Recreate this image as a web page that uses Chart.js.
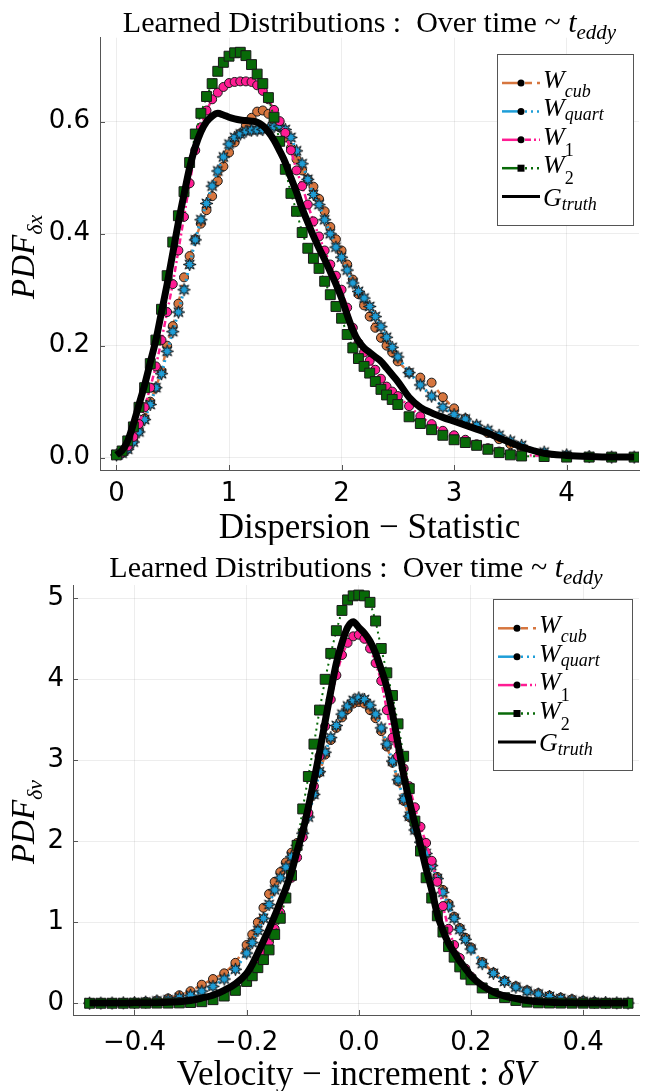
<!DOCTYPE html>
<html>
<head>
<meta charset="utf-8">
<script src="https://cdn.jsdelivr.net/npm/chart.js@4.4.0/dist/chart.umd.min.js"></script>
<style>
body{margin:0;background:#fff;}
#wrap{position:relative;width:647px;height:1091px;background:#fff;}
#wrap canvas{position:absolute;left:0;}
</style>
</head>
<body>
<div id="wrap">
  <canvas id="dispChart" width="647" height="545" style="top:0px"></canvas>
  <canvas id="velChart" width="647" height="546" style="top:545px"></canvas>
</div>
<script>
//______________________________DATA: dispersion statistic_______________________________
var dispX=[0,0.05,0.1,0.15,0.2,0.25,0.3,0.35,0.4,0.45,
  0.5,0.55,0.6,0.65,0.7,0.75,0.8,0.85,0.9,0.95,
  1,1.05,1.1,1.15,1.2,1.25,1.3,1.35,1.4,1.45,
  1.5,1.55,1.6,1.65,1.7,1.75,1.8,1.85,1.9,1.95,
  2,2.05,2.1,2.15,2.2,2.25,2.3,2.35,2.4,2.45,
  2.5,2.6,2.7,2.8,2.9,3,3.1,3.2,3.3,3.4,
  3.5,3.6,3.8,4,4.2,4.4,4.6];
var dispCub=[0.005,0.008,0.016,0.03,0.048,0.07,0.1,0.125,0.155,0.2,
  0.235,0.275,0.322,0.36,0.39,0.418,0.442,0.467,0.494,0.52,
  0.545,0.563,0.579,0.593,0.607,0.618,0.62,0.614,0.603,0.59,
  0.572,0.553,0.533,0.513,0.497,0.484,0.462,0.44,0.412,0.39,
  0.37,0.345,0.318,0.292,0.272,0.252,0.232,0.214,0.2,0.188,
  0.172,0.152,0.143,0.134,0.108,0.088,0.07,0.056,0.044,0.033,
  0.024,0.017,0.008,0.004,0.002,0.001,0.001];
var dispQuart=[0.005,0.008,0.015,0.028,0.046,0.068,0.095,0.125,0.15,0.19,
  0.225,0.26,0.3,0.345,0.389,0.425,0.454,0.485,0.512,0.537,
  0.56,0.572,0.578,0.583,0.585,0.585,0.586,0.588,0.591,0.592,
  0.586,0.572,0.548,0.525,0.497,0.47,0.452,0.425,0.4,0.376,
  0.358,0.335,0.312,0.297,0.285,0.27,0.252,0.234,0.215,0.197,
  0.18,0.152,0.13,0.11,0.09,0.077,0.069,0.058,0.049,0.04,
  0.03,0.022,0.01,0.005,0.002,0.001,0.001];
var dispW1=[0.005,0.009,0.02,0.037,0.06,0.09,0.125,0.163,0.21,0.26,
  0.31,0.37,0.43,0.49,0.549,0.59,0.62,0.64,0.652,0.662,
  0.669,0.671,0.672,0.672,0.671,0.665,0.655,0.64,0.621,0.601,
  0.58,0.549,0.513,0.485,0.452,0.422,0.395,0.37,0.345,0.325,
  0.3,0.268,0.232,0.205,0.188,0.173,0.157,0.141,0.127,0.118,
  0.11,0.092,0.074,0.06,0.048,0.04,0.032,0.024,0.017,0.011,
  0.007,0.005,0.003,0.002,0.001,0.001,0.001];
var dispW2=[0.005,0.012,0.03,0.055,0.09,0.125,0.168,0.21,0.265,0.325,
  0.385,0.432,0.475,0.527,0.578,0.615,0.645,0.668,0.69,0.706,
  0.717,0.723,0.724,0.718,0.702,0.685,0.668,0.643,0.608,0.565,
  0.515,0.472,0.44,0.402,0.374,0.356,0.338,0.315,0.291,0.27,
  0.249,0.22,0.196,0.177,0.163,0.151,0.136,0.122,0.112,0.104,
  0.095,0.073,0.061,0.05,0.04,0.032,0.027,0.022,0.015,0.009,
  0.005,0.003,0.002,0.001,0.001,0.001,0.001];
var dispTruth=[0.005,0.013,0.03,0.06,0.095,0.13,0.17,0.21,0.26,0.31,
  0.365,0.42,0.47,0.518,0.555,0.582,0.6,0.61,0.615,0.612,
  0.608,0.605,0.603,0.602,0.601,0.599,0.593,0.582,0.567,0.548,
  0.527,0.5,0.474,0.445,0.42,0.396,0.374,0.354,0.332,0.31,
  0.285,0.255,0.228,0.208,0.196,0.188,0.18,0.172,0.16,0.148,
  0.136,0.108,0.09,0.08,0.072,0.065,0.058,0.051,0.044,0.035,
  0.027,0.019,0.008,0.004,0.002,0.001,0.001];
var dispXTicks=[0,1,2,3,4];
var dispXTickLabels=['0','1','2','3','4'];
var dispYTicks=[0,0.2,0.4,0.6];
var dispYTickLabels=['0.0','0.2','0.4','0.6'];

//______________________________DATA: velocity increment_______________________________
var velX=[-0.48,-0.46,-0.44,-0.42,-0.4,-0.38,-0.36,-0.34,-0.32,-0.3,-0.28,-0.26,-0.24,-0.22,
  -0.2,-0.19,-0.18,-0.17,-0.16,-0.15,-0.14,-0.13,-0.12,-0.11,
  -0.1,-0.09,-0.08,-0.07,-0.06,-0.05,-0.04,-0.03,-0.02,-0.01,
  0,0.01,0.02,0.03,0.04,0.05,0.06,0.07,0.08,0.09,
  0.1,0.11,0.12,0.13,0.14,0.15,0.16,0.17,0.18,0.19,0.2,
  0.22,0.24,0.26,0.28,0.3,0.32,0.34,0.36,0.38,0.4,0.42,0.44,0.46,0.48];
var velCub=[0.003,0.003,0.004,0.006,0.01,0.02,0.035,0.06,0.1,0.15,0.23,0.3,0.37,0.5,
  0.72,0.85,1.0,1.18,1.35,1.5,1.62,1.74,1.86,1.98,
  2.12,2.32,2.58,2.85,3.07,3.25,3.4,3.53,3.63,3.7,
  3.72,3.7,3.62,3.52,3.36,3.17,2.97,2.74,2.5,2.3,
  2.14,1.99,1.85,1.71,1.56,1.4,1.23,1.07,0.93,0.81,0.69,
  0.51,0.38,0.28,0.21,0.16,0.125,0.095,0.07,0.05,0.03,0.018,0.01,0.006,0.004];
var velQuart=[0.002,0.003,0.004,0.006,0.008,0.015,0.03,0.045,0.07,0.1,0.15,0.21,0.3,0.42,
  0.62,0.75,0.9,1.05,1.22,1.4,1.55,1.68,1.81,1.95,
  2.1,2.3,2.58,2.86,3.1,3.28,3.43,3.57,3.67,3.74,
  3.77,3.75,3.68,3.57,3.4,3.2,2.99,2.76,2.52,2.31,
  2.14,1.99,1.85,1.7,1.54,1.37,1.2,1.05,0.91,0.79,0.67,
  0.49,0.37,0.27,0.2,0.15,0.115,0.085,0.06,0.04,0.025,0.015,0.01,0.006,0.004];
var velW1=[0.002,0.002,0.002,0.003,0.003,0.004,0.006,0.01,0.015,0.025,0.045,0.08,0.13,0.21,
  0.32,0.4,0.5,0.62,0.76,0.92,1.12,1.32,1.55,1.8,
  2.05,2.35,2.68,3.05,3.42,3.75,4.05,4.3,4.45,4.53,
  4.55,4.5,4.38,4.2,3.98,3.62,3.28,3.05,2.9,2.68,
  2.42,2.18,1.98,1.76,1.5,1.2,0.92,0.72,0.56,0.43,0.33,
  0.2,0.12,0.07,0.04,0.022,0.012,0.008,0.005,0.004,0.003,0.002,0.002,0.002,0.002];
var velW2=[0.001,0.001,0.001,0.001,0.002,0.002,0.003,0.003,0.005,0.01,0.02,0.045,0.09,0.16,
  0.27,0.34,0.44,0.54,0.66,0.85,1.05,1.3,1.58,1.95,
  2.4,2.8,3.2,3.62,4.0,4.32,4.6,4.85,4.98,5.03,
  5.04,5.03,4.95,4.72,4.38,4.08,3.8,3.45,3.05,2.65,
  2.25,1.88,1.55,1.3,1.08,0.88,0.7,0.57,0.45,0.36,0.29,
  0.19,0.12,0.07,0.035,0.015,0.006,0.004,0.003,0.002,0.002,0.001,0.001,0.001,0.001];
var velTruth=[0.004,0.004,0.005,0.005,0.006,0.007,0.008,0.012,0.02,0.035,0.065,0.1,0.16,0.24,
  0.37,0.48,0.62,0.77,0.92,1.08,1.25,1.42,1.62,1.88,
  2.12,2.42,2.75,3.1,3.48,3.85,4.2,4.45,4.64,4.71,
  4.64,4.57,4.47,4.32,4.12,3.9,3.58,3.2,2.82,2.5,
  2.22,1.95,1.66,1.4,1.1,0.9,0.74,0.63,0.52,0.43,0.34,
  0.22,0.14,0.09,0.06,0.035,0.02,0.012,0.008,0.006,0.005,0.004,0.004,0.004,0.004];
var velXTicks=[-0.4,-0.2,0,0.2,0.4];
var velXTickLabels=['\u22120.4','\u22120.2','0.0','0.2','0.4'];
var velYTicks=[0,1,2,3,4,5];
var velYTickLabels=['0','1','2','3','4','5'];

// series names: main symbol + subscript
var seriesMain=['W','W','W','W','G'];
var seriesSub=['cub','quart','1','2','truth'];

//______________________________STYLES_______________________________
var SERIF='"Liberation Serif","DejaVu Serif",serif';
var SANS='"DejaVu Sans",sans-serif';
var ORANGE='#D6763F', BLUE='#1E9ED8', PINK='#FF1C93', GREEN='#086A08';
var AXIS='#555', GRID='rgba(0,0,0,0.07)';

var seriesStyle=[
  {color:ORANGE, dash:[7,5], shape:'circle', width:2.5},
  {color:BLUE, dash:[2,4], shape:'star', width:3},
  {color:PINK, dash:[6,3,2,3], shape:'circle', width:2.5},
  {color:GREEN, dash:[2,4], shape:'rect', width:2},
  {color:'#000', dash:[], shape:null, width:7}
];
// legend text offsets (baseline below row line, subscript drop)
var legendBaseDy=[5,5,5,5,9];
var legendSubDy=[9,4,11,11,4];

// 8 point star marker, blue with dark outline
function starMarker(){
  var c=document.createElement('canvas');
  c.width=15; c.height=15;
  var g=c.getContext('2d');
  g.beginPath();
  for(var i=0;i<16;i++){
    var r=(i%2==0)?6.5:3;
    var a=i*Math.PI/8-Math.PI/2;
    g.lineTo(7.5+r*Math.cos(a),7.5+r*Math.sin(a));
  }
  g.closePath();
  g.fillStyle=BLUE; g.fill();
  g.strokeStyle='#111'; g.lineWidth=1; g.stroke();
  return c;
}
var STAR=starMarker();

function pts(xs,ys){
  return xs.map(function(x,i){ return {x:x,y:ys[i]}; });
}

function makeDatasets(xs,ysList){
  return ysList.map(function(ys,i){
    var st=seriesStyle[i];
    var ds={
      label:seriesMain[i]+'_'+seriesSub[i],
      data:pts(xs,ys),
      borderColor:st.color,
      borderWidth:st.width,
      borderDash:st.dash,
      fill:false,
      order:5-i
    };
    if(st.shape==null){
      ds.pointRadius=0;
      ds.cubicInterpolationMode='monotone';
    }else{
      ds.pointStyle=(st.shape=='star')?STAR:st.shape;
      ds.pointRadius=(st.shape=='rect')?7:4.5;
      ds.pointBackgroundColor=st.color;
      ds.pointBorderColor='#1a1a1a';
      ds.pointBorderWidth=1;
    }
    return ds;
  });
}

// draw a run of text pieces (main text + subscripts) on one baseline
function drawParts(ctx,parts,x,y,align){
  var w=0;
  parts.forEach(function(p){ ctx.font=p.font; w+=ctx.measureText(p.text).width; });
  var cx=(align=='center')?x-w/2:x;
  parts.forEach(function(p){
    ctx.font=p.font;
    ctx.fillText(p.text,cx,y+(p.dy||0));
    cx+=ctx.measureText(p.text).width;
  });
}

function axis(min,max,ticks,labels,pad,fit){
  return {
    type:'linear', min:min, max:max,
    afterBuildTicks:function(s){ s.ticks=ticks.map(function(v){ return {value:v}; }); },
    afterFit:function(s){ fit(s); s.paddingTop=0; s.paddingBottom=0; s.paddingLeft=0; s.paddingRight=0; },
    ticks:{autoSkip:false, maxRotation:0, minRotation:0, padding:pad, color:'#000',
      font:{family:SANS, size:26},
      callback:function(v,i){ return labels[i]; }},
    grid:{color:GRID, drawTicks:false, lineWidth:1},
    border:{color:AXIS, width:1}
  };
}

//______________________________TITLES, LABELS, LEGEND_______________________________
function decor(cfg){
  return {
    id:'decor',
    beforeDatasetsDraw:function(chart){
      // short ticks pointing into the plot
      var ctx=chart.ctx, a=chart.chartArea, sx=chart.scales.x, sy=chart.scales.y;
      ctx.save();
      ctx.strokeStyle=AXIS; ctx.lineWidth=1;
      ctx.beginPath();
      sx.ticks.forEach(function(t){
        var px=Math.round(sx.getPixelForValue(t.value))+0.5;
        ctx.moveTo(px,a.bottom); ctx.lineTo(px,a.bottom-5);
      });
      sy.ticks.forEach(function(t){
        var py=Math.round(sy.getPixelForValue(t.value))+0.5;
        ctx.moveTo(a.left,py); ctx.lineTo(a.left+5,py);
      });
      ctx.stroke();
      ctx.restore();
    },
    afterDraw:function(chart){
      var ctx=chart.ctx, a=chart.chartArea;
      var mid=(a.left+a.right)/2;
      ctx.save();
      ctx.fillStyle='#000';
      ctx.textAlign='left';
      ctx.textBaseline='alphabetic';
      drawParts(ctx,cfg.title,mid,cfg.titleY,'center');
      drawParts(ctx,cfg.xLabel,mid,cfg.xLabelY,'center');
      ctx.save();
      ctx.translate(cfg.yLabelX,(a.top+a.bottom)/2+cfg.yLabelShift);
      ctx.rotate(-Math.PI/2);
      drawParts(ctx,cfg.yLabel,0,0,'center');
      ctx.restore();

      // legend
      var L=cfg.legend;
      ctx.fillStyle='#fff';
      ctx.fillRect(L.x,L.y,L.w,L.h);
      ctx.strokeStyle=AXIS; ctx.lineWidth=1;
      ctx.strokeRect(L.x+0.5,L.y+0.5,L.w,L.h);
      var x0=L.x+5, mx=L.x+24, x1=L.x+43, tx=L.x+46;
      for(var i=0;i<seriesMain.length;i++){
        var st=seriesStyle[i], y=L.rows[i];
        ctx.strokeStyle=st.color;
        if(st.shape==null){
          ctx.lineWidth=3;
          ctx.setLineDash([]);
          ctx.beginPath(); ctx.moveTo(x0,y); ctx.lineTo(x1,y); ctx.stroke();
        }else{
          ctx.lineWidth=2.5;
          ctx.setLineDash([]);
          ctx.beginPath(); ctx.moveTo(x0,y); ctx.lineTo(mx,y); ctx.stroke();
          ctx.setLineDash(st.dash);
          ctx.beginPath(); ctx.moveTo(mx+4,y); ctx.lineTo(x1,y); ctx.stroke();
          ctx.setLineDash([]);
          ctx.fillStyle='#000';
          if(st.shape=='rect'){ ctx.fillRect(mx-3.5,y-3.5,7,7); }
          else{ ctx.beginPath(); ctx.arc(mx,y,3.5,0,Math.PI*2); ctx.fill(); }
        }
        var subFont=(/^[0-9]+$/.test(seriesSub[i])?'':'italic ')+'18px '+SERIF;
        ctx.fillStyle='#000';
        drawParts(ctx,[
          {text:seriesMain[i], font:'italic 26px '+SERIF},
          {text:seriesSub[i], font:subFont, dy:legendSubDy[i]}
        ],tx,y+legendBaseDy[i],'left');
      }
      ctx.restore();
    }
  };
}

function rows(top){
  return [top,top+28.4,top+56.8,top+85.2,top+113.6];
}

var titleParts=[
  {text:'Learned Distributions :  Over time ~ ', font:'30px '+SERIF},
  {text:'t', font:'italic 30px '+SERIF},
  {text:'eddy', font:'italic 21px '+SERIF, dy:7}
];

//______________________________CHART: dispersion_______________________________
new Chart(document.getElementById('dispChart'),{
  type:'line',
  data:{datasets:makeDatasets(dispX,[dispCub,dispQuart,dispW1,dispW2,dispTruth])},
  options:{
    responsive:false, animation:false, events:[],
    layout:{padding:{top:37.7,right:1,left:0,bottom:0}},
    plugins:{legend:{display:false}, tooltip:{enabled:false}, title:{display:false}},
    scales:{
      x:axis(-0.1465,4.643,dispXTicks,dispXTickLabels,9,function(s){ s.height=75; }),
      y:axis(-0.022,0.75,dispYTicks,dispYTickLabels,10,function(s){ s.width=100; })
    }
  },
  plugins:[decor({
    title:titleParts, titleY:32,
    xLabel:[{text:'Dispersion \u2212 Statistic', font:'35px '+SERIF}], xLabelY:538,
    yLabel:[{text:'PDF', font:'italic 33px '+SERIF},{text:'\u03B4x', font:'italic 22px '+SERIF, dy:8}],
    yLabelX:33.5, yLabelShift:3,
    legend:{x:497, y:54, w:136, h:171, rows:rows(83)}
  })]
});

//______________________________CHART: velocity_______________________________
new Chart(document.getElementById('velChart'),{
  type:'line',
  data:{datasets:makeDatasets(velX,[velCub,velQuart,velW1,velW2,velTruth])},
  options:{
    responsive:false, animation:false, events:[],
    layout:{padding:{top:40,right:1,left:0,bottom:0}},
    plugins:{legend:{display:false}, tooltip:{enabled:false}, title:{display:false}},
    scales:{
      x:axis(-0.5096,0.4996,velXTicks,velXTickLabels,13,function(s){ s.height=76; }),
      y:axis(-0.144,5.164,velYTicks,velYTickLabels,9,function(s){ s.width=73; })
    }
  },
  plugins:[decor({
    title:titleParts, titleY:32,
    xLabel:[{text:'Velocity \u2212 increment : ', font:'35px '+SERIF},{text:'\u03B4V', font:'italic 35px '+SERIF}], xLabelY:540,
    yLabel:[{text:'PDF', font:'italic 33px '+SERIF},{text:'\u03B4v', font:'italic 22px '+SERIF, dy:8}],
    yLabelX:33.5, yLabelShift:22,
    legend:{x:493, y:54, w:139, h:171, rows:rows(83.3)}
  })]
});
</script>
</body>
</html>
